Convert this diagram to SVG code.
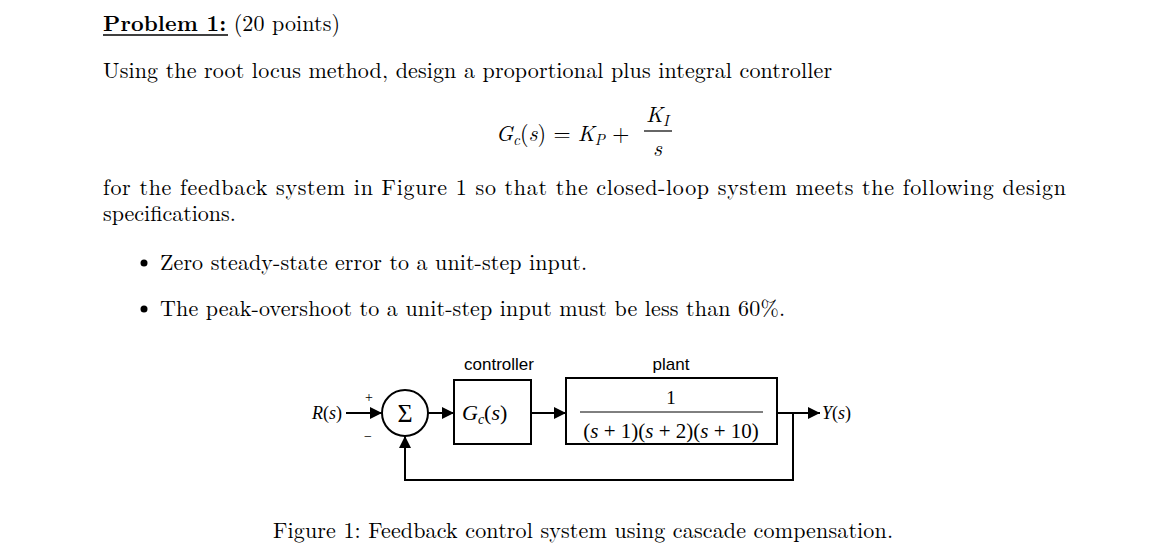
<svg xmlns="http://www.w3.org/2000/svg" width="1170" height="555" viewBox="0 0 1170 555">
<style>
.t{font-family:"Latin Modern Roman","Liberation Serif",serif;font-size:22px;fill:#000}
.d{font-family:"Liberation Serif",serif;fill:#000}
.s{font-family:"Liberation Sans",sans-serif;font-size:17px;fill:#000}
.w{stroke:#000;stroke-width:2;fill:none}
</style>
<defs><marker id="b" viewBox="0 0 10 10" refX="10" refY="5" markerWidth="17" markerHeight="12" orient="auto" markerUnits="userSpaceOnUse"><path d="M0,0L10,5L0,10z" fill="#000"/></marker></defs>
<rect width="1170" height="555" fill="#fff"/>
<text class="t" x="103" y="31" textLength="237"><tspan font-weight="bold">Problem 1:</tspan> (20 points)</text>
<line x1="103" y1="35" x2="228" y2="35" stroke="#000" stroke-width="1.5"/>
<text class="t" x="103" y="78" textLength="729">Using the root locus method, design a proportional plus integral controller</text>
<text class="t" x="496" y="141"><tspan font-style="italic">G</tspan><tspan font-size="15" font-style="italic" dy="4">c</tspan><tspan dy="-4">(</tspan><tspan font-style="italic">s</tspan>) = <tspan font-style="italic">K</tspan><tspan font-size="15" font-style="italic" dy="4">P</tspan><tspan dy="-4"> +</tspan></text>
<text class="t" x="646" y="122" font-style="italic">K<tspan font-size="15" dy="4">I</tspan></text>
<line x1="644" y1="131" x2="672" y2="131" stroke="#000" stroke-width="1.2"/>
<text class="t" x="653" y="156" font-style="italic">s</text>
<text class="t" x="103" y="195" textLength="963">for the feedback system in Figure 1 so that the closed-loop system meets the following design</text>
<text class="t" x="103" y="221">specifications.</text>
<circle cx="144" cy="263" r="3.5" fill="#000"/>
<text class="t" x="160" y="270" textLength="427">Zero steady-state error to a unit-step input.</text>
<circle cx="144" cy="309" r="3.5" fill="#000"/>
<text class="t" x="160" y="316" textLength="625">The peak-overshoot to a unit-step input must be less than 60%.</text>
<g id="sum"><circle cx="405" cy="413" r="23" class="w"/><text class="d" x="405" y="422" font-size="26" text-anchor="middle">Σ</text></g>
<g id="controller"><rect x="454" y="380" width="77" height="64" class="w"/><text class="s" x="499" y="370" text-anchor="middle">controller</text><text class="d" x="462" y="420" font-size="22" font-style="italic">G<tspan font-size="14" dy="4">c</tspan><tspan dy="-4" font-style="normal">(</tspan>s<tspan font-style="normal">)</tspan></text></g>
<g id="plant"><rect x="566" y="378" width="211" height="66" class="w"/><text class="s" x="671" y="370" text-anchor="middle">plant</text><text class="d" x="671" y="404" font-size="19" text-anchor="middle">1</text><line x1="580" y1="412" x2="763" y2="412" stroke="#000" stroke-width="1"/><text class="d" x="671" y="438" font-size="21" text-anchor="middle">(<tspan font-style="italic">s</tspan> + 1)(<tspan font-style="italic">s</tspan> + 2)(<tspan font-style="italic">s</tspan> + 10)</text></g>
<g id="labels"><text class="d" x="312" y="419" font-size="18" font-style="italic">R<tspan font-style="normal">(</tspan>s<tspan font-style="normal">)</tspan></text><text class="d" x="822" y="419" font-size="18" font-style="italic">Y<tspan font-style="normal">(</tspan>s<tspan font-style="normal">)</tspan></text><text class="d" x="365" y="402" font-size="14">+</text><text class="d" x="364" y="441" font-size="14">−</text></g>
<g id="connectors">
<line x1="346" y1="413" x2="382" y2="413" class="w" marker-end="url(#b)"/>
<line x1="428" y1="413" x2="454" y2="413" class="w" marker-end="url(#b)"/>
<line x1="531" y1="413" x2="566" y2="413" class="w" marker-end="url(#b)"/>
<line x1="777" y1="413" x2="820" y2="413" class="w" marker-end="url(#b)"/>
<polyline points="793,413 793,480 405,480 405,436" class="w" marker-end="url(#b)"/>
</g>
<text class="t" x="273" y="538" textLength="620">Figure 1: Feedback control system using cascade compensation.</text>
</svg>
